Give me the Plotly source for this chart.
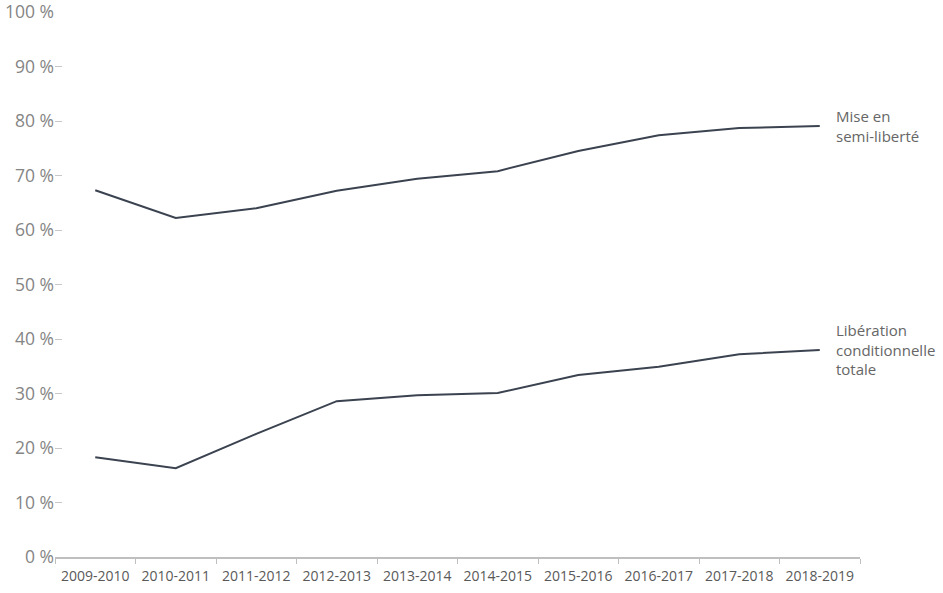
import plotly.graph_objects as go

# données
annees = ["2009-2010", "2010-2011", "2011-2012", "2012-2013", "2013-2014",
          "2014-2015", "2015-2016", "2016-2017", "2017-2018", "2018-2019"]
semi_liberte = [67.3, 62.2, 64.0, 67.2, 69.4, 70.8, 74.5, 77.4, 78.7, 79.1]
lib_cond_totale = [18.3, 16.3, 22.6, 28.6, 29.7, 30.1, 33.4, 34.9, 37.2, 38.0]
y_ticks = list(range(0, 101, 10))
y_labels = [f"{v} %" for v in y_ticks]

couleur_ligne = "#3b4350"

fig = go.Figure()
fig.add_trace(go.Scatter(x=annees, y=semi_liberte, mode="lines",
                         line=dict(color=couleur_ligne, width=2), name="Mise en semi-liberté"))
fig.add_trace(go.Scatter(x=annees, y=lib_cond_totale, mode="lines",
                         line=dict(color=couleur_ligne, width=2), name="Libération conditionnelle totale"))

fig.add_annotation(x=annees[-1], y=semi_liberte[-1], xref="x", yref="y",
                   text="Mise en<br>semi-liberté", showarrow=False,
                   xanchor="left", yanchor="middle", align="left", xshift=14,
                   font=dict(family="Open Sans", size=15, color="#666666"))
fig.add_annotation(x=annees[-1], y=lib_cond_totale[-1], xref="x", yref="y",
                   text="Libération<br>conditionnelle<br>totale", showarrow=False,
                   xanchor="left", yanchor="middle", align="left", xshift=14,
                   font=dict(family="Open Sans", size=15, color="#666666"))

fig.update_layout(
    width=943, height=593,
    margin=dict(l=55, r=83, t=12, b=36),
    paper_bgcolor="white", plot_bgcolor="white",
    showlegend=False,
    xaxis=dict(type="category", range=[-0.5, 9.5], showgrid=False, automargin=False,
               showline=True, linecolor="#bfbfbf", linewidth=1.5,
               ticks="outside", tickson="boundaries", ticklen=5, tickcolor="#bfbfbf",
               ticklabelstandoff=5,
               tickfont=dict(family="Open Sans", size=14, color="#595959")),
    yaxis=dict(range=[0, 100], showgrid=False, zeroline=False, showline=False, automargin=False,
               tickvals=y_ticks, ticktext=y_labels, ticklabeloverflow="allow",
               ticks="inside", ticklen=7, tickcolor="#c8c8c8",
               tickfont=dict(family="Open Sans", size=17.5, color="#858585")),
)

# pas de marge autour du graphique dans la page
fig.write_html("out.html", config={"displayModeBar": False},
               post_script="document.body.style.margin='0';")
